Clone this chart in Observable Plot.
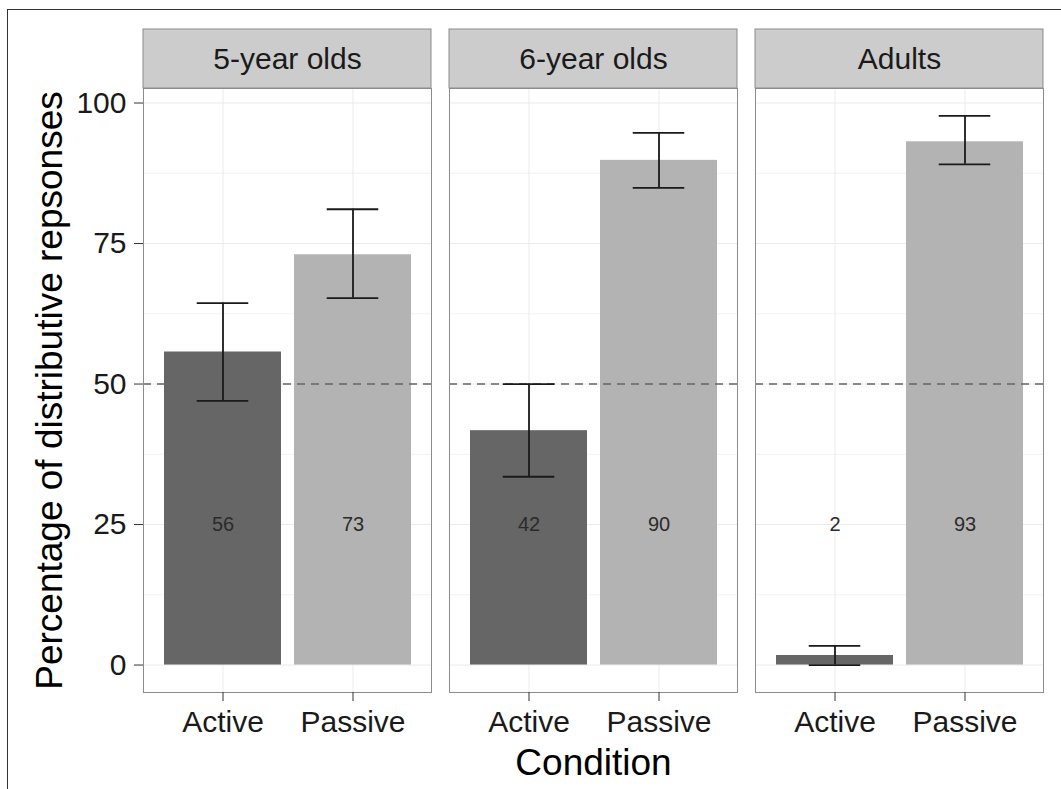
<!DOCTYPE html>
<html>
<head>
<meta charset="utf-8">
<script src="https://cdn.jsdelivr.net/npm/d3@7"></script>
<script src="https://cdn.jsdelivr.net/npm/@observablehq/plot@0.6"></script>
<style>
  html, body { margin: 0; padding: 0; background: #fff; }
  #wrap { position: relative; width: 1061px; height: 789px; overflow: hidden; }
  #border { position: absolute; left: 7px; top: 9px; width: 1100px; height: 800px;
            border-top: 1.5px solid #333; border-left: 1.5px solid #333; pointer-events: none; }
</style>
</head>
<body>
<div id="wrap"><div id="border"></div></div>
<script>
// ---- data ----
const groups = ["5-year olds", "6-year olds", "Adults"];
const conditions = ["Active", "Passive"];
const means  = [55.7, 73.0, 41.7, 89.8, 1.7, 93.1];
const lows   = [47.0, 65.3, 33.5, 84.9, 0.0, 89.1];
const highs  = [64.4, 81.1, 50.0, 94.7, 3.4, 97.7];
const labels = ["56", "73", "42", "90", "2", "93"];
const yTicks = [0, 25, 50, 75, 100];
const yMinor = [12.5, 37.5, 62.5, 87.5];
const chance = [50];
const labelY = 25;

const rows = means.map((m, i) => ({
  group: groups[Math.floor(i / 2)],
  cond: conditions[i % 2],
  value: m, lo: lows[i], hi: highs[i], label: labels[i]
}));

const yMax = d3.max(rows, d => d.hi);
const yExp = yMax * 0.05;

const W = 1061, H = 789;
const mTop = 88, mBottom = 97, mLeft = 143, mRight = 18;
const panelH = H - mTop - mBottom;
const font = "Liberation Sans, Arial, Helvetica, sans-serif";
const bandStep = (W - mLeft - mRight - 2 * 18) / 3 / 2.2;
const whiskerInset = (0.9 - 0.4) * bandStep / 2;

const plot = Plot.plot({
  width: W, height: H,
  marginTop: mTop, marginBottom: mBottom, marginLeft: mLeft, marginRight: mRight,
  style: { fontFamily: font, background: "transparent", color: "#1a1a1a", overflow: "visible" },
  fx: { domain: groups, axis: null, paddingInner: 18 / 306, paddingOuter: 0, label: null },
  x: { domain: conditions, paddingInner: 0.1, paddingOuter: 0.15, label: null },
  y: { domain: [-yExp, yMax + yExp], label: null },
  color: { domain: conditions, range: ["#666666", "#b3b3b3"] },
  marks: [
    // strips
    Plot.rect(groups, { fx: d => d, fill: "#cccccc", stroke: "#8c8c8c", strokeWidth: 1, insetTop: -59, insetBottom: panelH }),
    Plot.text(groups, { fx: d => d, text: d => d, frameAnchor: "top", lineAnchor: "middle", dy: -29, fontSize: 30, fill: "#1a1a1a" }),
    // grid
    Plot.gridY(yMinor, { stroke: "#f3f3f3", strokeOpacity: 1, strokeWidth: 1 }),
    Plot.gridY(yTicks, { stroke: "#ebebeb", strokeOpacity: 1, strokeWidth: 1 }),
    Plot.gridX(conditions, { stroke: "#ebebeb", strokeOpacity: 1, strokeWidth: 1 }),
    // bars
    Plot.barY(rows, { fx: "group", x: "cond", y: "value", fill: "cond", inset: 0 }),
    // value labels
    Plot.text(rows, { fx: "group", x: "cond", y: () => labelY, text: "label", fontSize: 20, fill: "#2b2b2b" }),
    // chance line
    Plot.ruleY(chance, { stroke: "#666666", strokeWidth: 1.4, strokeDasharray: "8,6" }),
    // error bars
    Plot.ruleX(rows, { fx: "group", x: "cond", y1: "lo", y2: "hi", stroke: "#1a1a1a", strokeWidth: 1.8 }),
    Plot.tickY(rows, { fx: "group", x: "cond", y: "lo", stroke: "#1a1a1a", strokeWidth: 1.8, insetLeft: whiskerInset, insetRight: whiskerInset }),
    Plot.tickY(rows, { fx: "group", x: "cond", y: "hi", stroke: "#1a1a1a", strokeWidth: 1.8, insetLeft: whiskerInset, insetRight: whiskerInset }),
    // panel border
    Plot.frame({ stroke: "#8c8c8c", strokeWidth: 1 }),
    // axes
    Plot.axisY({ ticks: yTicks, tickSize: 9, tickPadding: 8, fontSize: 30, label: null, stroke: "#333" }),
    Plot.axisX({ tickSize: 9, tickPadding: 9, fontSize: 30, label: null, stroke: "#333" }),
    // axis titles
    Plot.text([groups[0]], { fx: d => d, text: () => "Percentage of distributive repsonses", frameAnchor: "left", textAnchor: "middle", lineAnchor: "middle", rotate: -90, dx: -93, fontSize: 37, fill: "#000" }),
    Plot.text([groups[1]], { fx: d => d, text: () => "Condition", frameAnchor: "bottom", textAnchor: "middle", lineAnchor: "middle", dy: 71, fontSize: 37, fill: "#000" })
  ]
});
document.getElementById("wrap").prepend(plot);
</script>
</body>
</html>
